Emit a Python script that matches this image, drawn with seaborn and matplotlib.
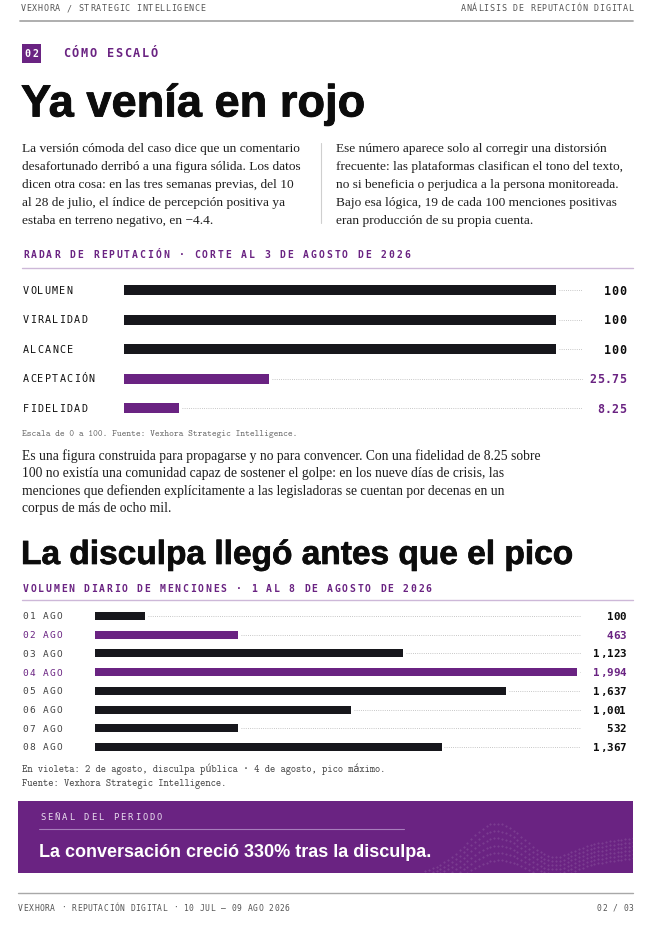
import numpy as np
import matplotlib
matplotlib.use("Agg")
import matplotlib.pyplot as plt
import matplotlib.patheffects as pe
from matplotlib.patches import Rectangle
import seaborn as sns

# -----------------------------
# Datos
# -----------------------------
radar_labels = ["VOLUMEN", "VIRALIDAD", "ALCANCE", "ACEPTACIÓN", "FIDELIDAD"]
radar_values = [100, 100, 100, 25.75, 8.25]
radar_bar = [100, 100, 100, 33.6, 12.8]      # largo visible de la barra (% del carril)
radar_hl = [False, False, False, True, True]

dias = ["01 AGO", "02 AGO", "03 AGO", "04 AGO", "05 AGO", "06 AGO", "07 AGO", "08 AGO"]
menciones = [100, 463, 1123, 1994, 1637, 1001, 532, 1367]
dias_bar = [10.4, 29.7, 64.0, 100, 85.2, 53.2, 29.7, 71.9]   # % del carril
dias_hl = [False, True, False, True, False, False, False, False]

p1_left = [
    "La versión cómoda del caso dice que un comentario",
    "desafortunado derribó a una figura sólida. Los datos",
    "dicen otra cosa: en las tres semanas previas, del 10",
    "al 28 de julio, el índice de percepción positiva ya",
    "estaba en terreno negativo, en −4.4.",
]
p1_right = [
    "Ese número aparece solo al corregir una distorsión",
    "frecuente: las plataformas clasifican el tono del texto,",
    "no si beneficia o perjudica a la persona monitoreada.",
    "Bajo esa lógica, 19 de cada 100 menciones positivas",
    "eran producción de su propia cuenta.",
]
p2 = [
    "Es una figura construida para propagarse y no para convencer. Con una fidelidad de 8.25 sobre",
    "100 no existía una comunidad capaz de sostener el golpe: en los nueve días de crisis, las",
    "menciones que defienden explícitamente a las legisladoras se cuentan por decenas en un",
    "corpus de más de ocho mil.",
]

PURPLE = "#6a2382"
DARK = "#17171c"
LILAC = "#cdb8d8"
INK = "#1e1e1e"
GRAY = "#555555"

MONO = ["DejaVu Sans Mono"]
SERIF = ["Liberation Serif", "DejaVu Serif"]
NOTE = ["cmtt10", "DejaVu Sans Mono"]
HEAD = ["Liberation Sans", "DejaVu Sans"]

sns.set_style("white")

W, H = 654, 925
fig = plt.figure(figsize=(W / 100, H / 100), dpi=100)
fig.patch.set_facecolor("white")
renderer = fig.canvas.get_renderer()

bg = fig.add_axes([0, 0, 1, 1])
bg.set_xlim(0, W)
bg.set_ylim(H, 0)
bg.axis("off")


def spaced(x, y, s, size, pitch, ha="left", **kw):
    # texto monoespaciado con tracking: un caracter por celda
    if ha == "right":
        x = x - len(s) * pitch
    base = y + 0.365 * size * 100 / 72
    for i, ch in enumerate(s):
        if ch != " ":
            bg.text(x + (i + 0.5) * pitch, base, ch, fontsize=size, ha="center",
                    va="baseline", family=MONO, **kw)


def fit_text(x, y, s, width, color, stroke=0.0):
    # titular ajustado al ancho que ocupa en la referencia
    t = bg.text(x, y, s, family=HEAD, weight="bold", va="baseline", fontsize=20, color=color)
    w = t.get_window_extent(renderer).width
    t.set_fontsize(20 * (width - stroke) / w)
    if stroke:
        t.set_path_effects([pe.withStroke(linewidth=stroke, foreground=color)])
    return t


def px_axes(x0, x1, y0, y1):
    return fig.add_axes([x0 / W, 1 - y1 / H, (x1 - x0) / W, (y1 - y0) / H])


# -----------------------------
# Cabecera
# -----------------------------
spaced(20, 8, "VEXHORA / STRATEGIC INTELLIGENCE", 6.0, 5.8, color=GRAY)
spaced(634, 8, "ANÁLISIS DE REPUTACIÓN DIGITAL", 6.0, 5.8, ha="right", color=GRAY)
bg.plot([20, 633], [21, 21], color="#a8a8a8", lw=1.3)

bg.add_patch(Rectangle((22, 44), 19, 19, color=PURPLE, lw=0))
spaced(23.5, 53.5, "02", 7.2, 8.0, color="white", weight="bold")
spaced(62, 53, "CÓMO ESCALÓ", 8.6, 8.8, color=PURPLE, weight="bold")

fit_text(21, 116.5, "Ya venía en rojo", 345, color="#0c0c0c", stroke=0.6)

for i, line in enumerate(p1_left):
    bg.text(22, 152 + i * 18, line, fontsize=9.6, family=SERIF, color=INK, va="baseline")
for i, line in enumerate(p1_right):
    bg.text(336, 152 + i * 18, line, fontsize=9.6, family=SERIF, color=INK, va="baseline")
bg.plot([321, 321], [143, 223], color="#cfcfcf", lw=0.8)

# -----------------------------
# Radar de reputación
# -----------------------------
spaced(22, 254, "RADAR DE REPUTACIÓN · CORTE AL 3 DE AGOSTO DE 2026", 7.0, 7.78,
       color=PURPLE, weight="bold")
bg.plot([22, 633], [268, 268], color=LILAC, lw=1.0)

r_top, r_row = 275.5, 29.5
r_x0, r_x1, r_full = 124, 583, 432
ax1 = px_axes(r_x0, r_x1, r_top, r_top + r_row * len(radar_labels))
pal1 = {lab: (PURPLE if hl else DARK) for lab, hl in zip(radar_labels, radar_hl)}
sns.barplot(x=radar_bar, y=radar_labels, hue=radar_labels, palette=pal1, orient="h",
            width=0.34, saturation=1, legend=False, ax=ax1, linewidth=0)
xmax1 = 100 * (r_x1 - r_x0) / r_full
ax1.set_xlim(0, xmax1)
ax1.set_ylim(len(radar_labels) - 0.5, -0.5)
ax1.hlines(range(len(radar_labels)), [b + 0.6 for b in radar_bar], xmax1,
           color="#b5b5b5", lw=0.6, linestyles=(0, (1, 1.6)))
ax1.axis("off")
ax1.patch.set_alpha(0)

for i, (lab, val, hl) in enumerate(zip(radar_labels, radar_values, radar_hl)):
    yc = r_top + (i + 0.5) * r_row
    spaced(22, yc, lab, 7.3, 7.35, color="#111111")
    spaced(626, yc, f"{val:g}", 8.4, 7.3, ha="right", weight="bold",
           color=PURPLE if hl else "#0c0c0c")

bg.text(22, 436, "Escala de 0 a 100. Fuente: Vexhora Strategic Intelligence.",
        fontsize=6.5, family=NOTE, color="#666666", va="baseline")

for i, line in enumerate(p2):
    bg.text(22, 460 + i * 17.4, line, fontsize=9.8, family=SERIF, color=INK, va="baseline")

# -----------------------------
# Volumen diario
# -----------------------------
fit_text(21, 564, "La disculpa llegó antes que el pico", 552, color="#0c0c0c", stroke=0.5)
spaced(22, 588, "VOLUMEN DIARIO DE MENCIONES · 1 AL 8 DE AGOSTO DE 2026", 7.0, 7.6,
       color=PURPLE, weight="bold")
bg.plot([22, 633], [600, 600], color=LILAC, lw=1.0)

d_top, d_row = 606.6, 18.72
d_x0, d_x1, d_full = 95, 581, 482
ax2 = px_axes(d_x0, d_x1, d_top, d_top + d_row * len(dias))
pal2 = {d: (PURPLE if hl else DARK) for d, hl in zip(dias, dias_hl)}
sns.barplot(x=dias_bar, y=dias, hue=dias, palette=pal2, orient="h",
            width=0.43, saturation=1, legend=False, ax=ax2, linewidth=0)
xmax2 = 100 * (d_x1 - d_x0) / d_full
ax2.set_xlim(0, xmax2)
ax2.set_ylim(len(dias) - 0.5, -0.5)
ax2.hlines(range(len(dias)), [b + 0.6 for b in dias_bar], xmax2,
           color="#b5b5b5", lw=0.6, linestyles=(0, (1, 1.6)))
ax2.axis("off")
ax2.patch.set_alpha(0)

for i, (d, v, hl) in enumerate(zip(dias, menciones, dias_hl)):
    yc = d_top + (i + 0.5) * d_row
    spaced(22, yc, d, 6.8, 6.8, color=PURPLE if hl else "#444444")
    spaced(626, yc, f"{v:,}", 7.8, 6.5, ha="right", weight="bold",
           color=PURPLE if hl else "#0c0c0c")

bg.text(22, 772, "En violeta: 2 de agosto, disculpa pública · 4 de agosto, pico máximo.",
        fontsize=7.2, family=NOTE, color="#444444", va="baseline")
bg.text(22, 786, "Fuente: Vexhora Strategic Intelligence.",
        fontsize=7.2, family=NOTE, color="#444444", va="baseline")

# -----------------------------
# Banda: señal del periodo
# -----------------------------
band = Rectangle((18, 801), 615, 72, color=PURPLE, lw=0)
bg.add_patch(band)
t = np.linspace(0, 1, 55)
for k in range(6):
    xs = 425 + 208 * t
    ys = (854 + 4 * k - 34 * np.exp(-((t - 0.33) / 0.17) ** 2) * (1 - 0.1 * k)
          + 10 * np.exp(-((t - 0.62) / 0.12) ** 2) - 16 * t ** 2 + 18 * (1 - t) ** 3)
    line, = bg.plot(xs, ys, ls="none", marker=".", ms=0.8, color="white", alpha=0.16)
    line.set_clip_path(band)
spaced(39, 817, "SEÑAL DEL PERIODO", 6.4, 7.3, color="#eadff0")
bg.plot([39, 404], [829, 829], color="#a77dbb", lw=0.8)
fit_text(39, 857, "La conversación creció 330% tras la disculpa.", 391, color="white")

# -----------------------------
# Pie de página
# -----------------------------
bg.plot([18, 633], [893, 893], color="#a8a8a8", lw=1.0)
spaced(18, 908, "VEXHORA · REPUTACIÓN DIGITAL · 10 JUL – 09 AGO 2026", 5.8, 5.33, color=GRAY)
spaced(634, 908, "02 / 03", 5.8, 5.33, ha="right", color=GRAY)

fig.savefig("out.png", dpi=100, facecolor="white")
